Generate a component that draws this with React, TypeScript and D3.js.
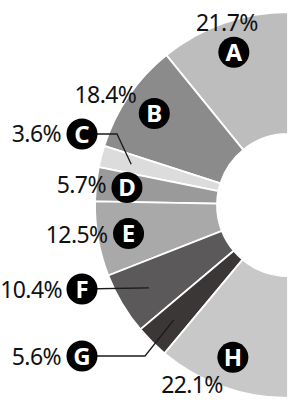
import { useEffect, useRef } from "react";
import * as d3 from "d3";

const categories = ["A", "B", "C", "D", "E", "F", "G", "H"];
const shares = [21.7, 18.4, 3.6, 5.7, 12.5, 10.4, 5.6, 22.1];
const sliceColors = [
  "#bdbdbd",
  "#8b8b8b",
  "#dcdcdc",
  "#9a9a9a",
  "#a9a9a9",
  "#5b5959",
  "#3c3737",
  "#c8c8c8",
];

// label layout (offsets from the badge centre)
const labelLayout: Record<
  string,
  { anchor: string; dx: number; dy: number; badge?: [number, number]; elbow?: [number, number] }
> = {
  A: { anchor: "middle", dx: -7, dy: -21 },
  B: { anchor: "end", dx: -18, dy: -11 },
  C: { anchor: "end", dx: -21, dy: 8, badge: [82, 134], elbow: [117, 134] },
  D: { anchor: "end", dx: -21, dy: 6 },
  E: { anchor: "end", dx: -21, dy: 9 },
  F: { anchor: "end", dx: -20, dy: 9, badge: [82, 289] },
  G: { anchor: "end", dx: -21, dy: 9, badge: [82, 356], elbow: [145, 356] },
  H: { anchor: "end", dx: -10, dy: 36 },
};

export default function App() {
  const svgRef = useRef<SVGSVGElement>(null);
  const width = 290;
  const height = 405;

  useEffect(() => {
    document.body.style.margin = "0";
    if (!svgRef.current) return;
    const svg = d3.select(svgRef.current);
    svg.selectAll("*").remove();

    const cx = 288;
    const cy = 205;
    const outerR = 193;
    const innerR = 71;
    const labelR = 162;

    const pie = d3
      .pie<number>()
      .sort(null)
      .startAngle(0)
      .endAngle(-Math.PI);
    const arcs = pie(shares);

    const arc = d3
      .arc<d3.PieArcDatum<number>>()
      .innerRadius(innerR)
      .outerRadius(outerR);

    const g = svg.append("g").attr("transform", `translate(${cx},${cy})`);

    g.selectAll("path.slice")
      .data(arcs)
      .join("path")
      .attr("class", "slice")
      .attr("d", arc)
      .attr("fill", (_, i) => sliceColors[i])
      .attr("stroke", "#fff")
      .attr("stroke-width", 1.8);

    const font = "'Noto Sans', 'Open Sans', sans-serif";

    arcs.forEach((a, i) => {
      const key = categories[i];
      const lay = labelLayout[key];
      const mid = (a.startAngle + a.endAngle) / 2;
      const px = cx + labelR * Math.sin(mid);
      const py = cy - labelR * Math.cos(mid);
      let bx = px;
      let by = py;

      if (lay.badge) {
        [bx, by] = lay.badge;
        const pts: [number, number][] = [[bx, by]];
        if (lay.elbow) pts.push(lay.elbow);
        pts.push([px, py]);
        svg
          .append("path")
          .attr("d", d3.line()(pts))
          .attr("fill", "none")
          .attr("stroke", "#1a1a1a")
          .attr("stroke-width", 1.3);
      }

      svg
        .append("circle")
        .attr("cx", bx)
        .attr("cy", by)
        .attr("r", 15.5)
        .attr("fill", "#000");

      svg
        .append("text")
        .attr("x", bx)
        .attr("y", by + 8.5)
        .attr("text-anchor", "middle")
        .attr("font-family", font)
        .attr("font-weight", 700)
        .attr("font-size", "24px")
        .attr("fill", "#fff")
        .text(key);

      svg
        .append("text")
        .attr("x", bx + lay.dx)
        .attr("y", by + lay.dy)
        .attr("text-anchor", lay.anchor)
        .attr("font-family", font)
        .attr("font-size", "23px")
        .attr("letter-spacing", "-0.6px")
        .attr("fill", "#111")
        .text(`${shares[i].toFixed(1)}%`);
    });
  }, []);

  return (
    <svg
      ref={svgRef}
      width={width}
      height={height}
      style={{ display: "block", background: "#fff" }}
    />
  );
}
